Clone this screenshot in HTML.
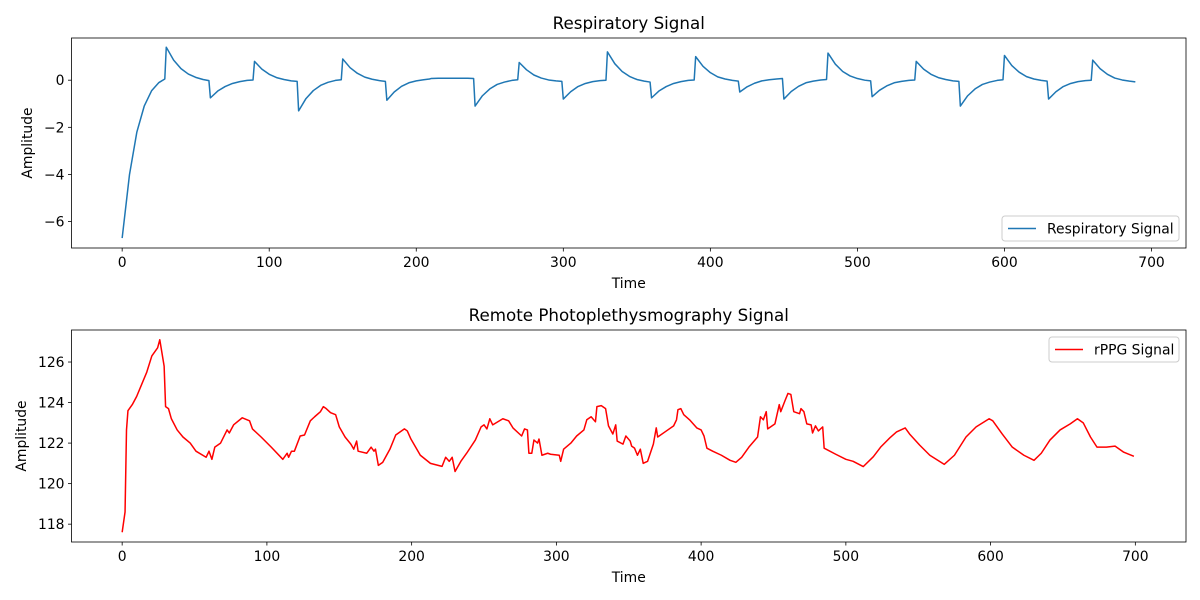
<!DOCTYPE html>
<html><head><meta charset="utf-8">
<style>
body{margin:0;background:#fff;}
svg{display:block;font-family:"DejaVu Sans","Liberation Sans",sans-serif;}
</style></head>
<body>
<svg id="fig" width="1200" height="600" viewBox="0 0 1200 600" xmlns="http://www.w3.org/2000/svg"></svg>
<script>
// ---- Respiratory data ----
const respSegStarts = [0,30,60,90,120,150,180,210,240,270,300,330,360,390,420,450,480,510,540,570,600,630,660];
const respOffsets = [0,5,10,15,20,25,29];
const respSegValues = [
 [-6.7,-4.0,-2.2,-1.1,-0.45,-0.1,0.05],
 [1.4,0.85,0.49,0.26,0.12,0.03,-0.02],
 [-0.75,-0.46,-0.27,-0.14,-0.06,-0.01,0.01],
 [0.8,0.47,0.25,0.11,0.03,-0.03,-0.05],
 [-1.3,-0.78,-0.44,-0.22,-0.09,-0.01,0.02],
 [0.9,0.53,0.29,0.13,0.04,-0.02,-0.05],
 [-0.85,-0.50,-0.26,-0.11,-0.03,0.02,0.05],
 [0.07,0.08,0.08,0.08,0.08,0.08,0.07],
 [-1.1,-0.66,-0.37,-0.18,-0.08,-0.01,0.02],
 [0.75,0.44,0.22,0.09,0.01,-0.03,-0.05],
 [-0.8,-0.49,-0.27,-0.14,-0.06,-0.02,0.0],
 [1.2,0.70,0.37,0.16,0.03,-0.04,-0.08],
 [-0.75,-0.46,-0.27,-0.14,-0.06,-0.01,0.01],
 [1.0,0.59,0.32,0.14,0.05,-0.01,-0.04],
 [-0.5,-0.28,-0.13,-0.03,0.02,0.05,0.07],
 [-0.8,-0.48,-0.26,-0.11,-0.04,0.01,0.03],
 [1.15,0.68,0.37,0.18,0.07,0.0,-0.03],
 [-0.7,-0.43,-0.24,-0.11,-0.05,-0.01,0.01],
 [0.8,0.47,0.25,0.11,0.03,-0.03,-0.05],
 [-1.1,-0.66,-0.37,-0.18,-0.08,-0.01,0.02],
 [1.05,0.62,0.34,0.15,0.05,-0.01,-0.04],
 [-0.8,-0.49,-0.27,-0.14,-0.06,-0.02,0.0],
 [0.85,0.49,0.25,0.09,0.01,-0.04,-0.07]
];
const respXTicks = [0,100,200,300,400,500,600,700];
const respYTicks = [-6,-4,-2,0];
// ---- rPPG data ----
const rppgT = [0,2,3,4,7,10,13.5,17,20.5,24.5,26,29,30,32,34,38,42,47,51,58,60,62,64,68,72.5,74,77,83,88,90,96,103,111,114,115,117,119,123,126,130,133,137,139,141,144,147.5,150,154,158,160,162,163,169,172,174,175,177,180,185,189,195,197,199.5,206,213,221,223.5,226,228,230,234,238,244,248,250,252,254,256,263,267,270,276,278,280,281,283,284.5,287,288,290,294,296,302,303,305,310,314,319,321,324,327,328,331,334,336,339,341,342,346,348,351,352,354,356,358,360,363,367,369,370,376,381,383,384,386,388,392,397,400,402,404,408,414,420,424,428,433,439,441,443,445,446,451,454,455,458,460,462,464,468,469,471,473,476,477,479,481,484,485,493,500,505,512,519,524,531,535,541,544,551,558,568,575,583,590,599,601.5,608,615,623,630,635,641,648,655,660,664,669,673.5,680,686,692,699];
const rppgV = [117.6,118.6,122.65,123.6,123.9,124.3,124.9,125.5,126.3,126.7,127.1,125.8,123.8,123.7,123.2,122.65,122.3,122.0,121.6,121.3,121.6,121.2,121.8,122.0,122.65,122.5,122.9,123.25,123.1,122.7,122.3,121.8,121.2,121.5,121.3,121.6,121.6,122.35,122.4,123.1,123.3,123.55,123.8,123.7,123.5,123.4,122.8,122.3,121.95,121.7,122.1,121.6,121.5,121.8,121.6,121.7,120.9,121.05,121.7,122.4,122.7,122.6,122.2,121.4,121.0,120.85,121.3,121.1,121.3,120.6,121.1,121.5,122.15,122.8,122.9,122.7,123.2,122.9,123.2,123.1,122.75,122.35,122.7,122.65,121.5,121.5,122.15,122.0,122.2,121.4,121.5,121.45,121.4,121.1,121.7,122.0,122.35,122.65,123.15,123.3,123.05,123.8,123.85,123.7,122.85,122.45,122.9,122.1,121.95,122.35,122.1,121.85,121.75,121.4,121.7,121.0,121.1,121.95,122.75,122.3,122.6,122.85,123.15,123.65,123.7,123.4,123.15,122.75,122.65,122.35,121.75,121.6,121.4,121.15,121.05,121.3,121.8,122.3,123.3,123.15,123.55,122.7,122.95,123.9,123.55,124.1,124.45,124.4,123.55,123.45,123.7,123.55,122.95,122.9,122.5,122.85,122.6,122.8,121.75,121.45,121.2,121.1,120.84,121.33,121.8,122.3,122.55,122.75,122.45,121.9,121.4,120.95,121.4,122.3,122.8,123.2,123.1,122.45,121.8,121.4,121.15,121.5,122.15,122.65,122.95,123.2,123.0,122.3,121.8,121.8,121.85,121.55,121.35];
const rppgXTicks = [0,100,200,300,400,500,600,700];
const rppgYTicks = [118,120,122,124,126];

const NS="http://www.w3.org/2000/svg";
const svg=document.getElementById('fig');
function mk(tag,attrs,parent){const e=document.createElementNS(NS,tag);for(const k in attrs)e.setAttribute(k,attrs[k]);(parent||svg).appendChild(e);return e;}
const FS=13.9, TFS=16.7;

function drawAxes(cfg){
  const g=mk('g',{});
  
  
  const {L,T,W,H,xmin,xmax,ymin,ymax}=cfg;
  const sx=v=>L+(v-xmin)/(xmax-xmin)*W;
  const sy=v=>T+H-(v-ymin)/(ymax-ymin)*H;
  const d=cfg.xs.map((x,i)=>(i?'L':'M')+sx(x).toFixed(2)+' '+sy(cfg.ys[i]).toFixed(2)).join(' ');
  const p=mk('path',{d:d,fill:'none',stroke:cfg.color,'stroke-width':1.5,'stroke-linejoin':'round'},g);
  
  
  const fr=mk('rect',{x:L,y:T,width:W,height:H,fill:'none',stroke:'#000','stroke-width':0.8},g);
  
  
  cfg.xticks.forEach(v=>{
    const x=sx(v);
    mk('line',{x1:x,x2:x,y1:T+H,y2:T+H+3.5,stroke:'#000','stroke-width':0.8},g);
    const t=mk('text',{x:x,y:T+H+19,'font-size':FS,'text-anchor':'middle',fill:'#000'},g);
    t.textContent=v;
    
    
  });
  cfg.yticks.forEach(v=>{
    const y=sy(v);
    mk('line',{x1:L-3.5,x2:L,y1:y,y2:y,stroke:'#000','stroke-width':0.8},g);
    const t=mk('text',{x:L-7,y:y+5,'font-size':FS,'text-anchor':'end',fill:'#000'},g);
    t.textContent=String(v).replace('-','\u2212');
    
    
  });
  const tt=mk('text',{x:L+W/2,y:T-9,'font-size':TFS,'text-anchor':'middle',fill:'#000'},g);
  tt.textContent=cfg.title;
  
  
  const xl=mk('text',{x:L+W/2,y:T+H+40,'font-size':FS,'text-anchor':'middle',fill:'#000'},g);
  xl.textContent='Time';
  
  
  const yx=cfg.ylabX, yy=T+H/2;
  const yl=mk('text',{x:yx,y:yy,'font-size':FS,'text-anchor':'middle',fill:'#000',transform:`rotate(-90 ${yx} ${yy})`},g);
  yl.textContent='Amplitude';
  
  
  const lg=mk('g',{},g);
  
  
  const lw=cfg.legW, lx=L+W-lw-7, ly=cfg.legTop?T+7:T+H-7-25;
  mk('rect',{x:lx,y:ly,width:lw,height:25,rx:3,fill:'#fff','fill-opacity':0.8,stroke:'#ccc','stroke-width':1},lg);
  mk('line',{x1:lx+6,x2:lx+34,y1:ly+12.5,y2:ly+12.5,stroke:cfg.color,'stroke-width':1.5},lg);
  const lt=mk('text',{x:lx+45,y:ly+17.5,'font-size':FS,fill:'#000'},lg);
  lt.textContent=cfg.legend;
  
  
}

const respX=[],respY=[];
respSegStarts.forEach((s,i)=>respOffsets.forEach((o,j)=>{respX.push(s+o);respY.push(respSegValues[i][j]);}));

drawAxes({name:'respiratory-chart',lineName:'respiratory-line',L:71.5,T:38,W:1114.5,H:210,
  xmin:-34.45,xmax:723.45,ymin:-7.12,ymax:1.79,xs:respX,ys:respY,color:'#1f77b4',
  xticks:respXTicks,yticks:respYTicks,title:'Respiratory Signal',ylabX:32,
  legend:'Respiratory Signal',legW:177,legTop:false});
drawAxes({name:'rppg-chart',lineName:'rppg-line',L:71.5,T:330,W:1114.5,H:212,
  xmin:-35,xmax:735,ymin:117.12,ymax:127.58,xs:rppgT,ys:rppgV,color:'#ff0000',
  xticks:rppgXTicks,yticks:rppgYTicks,title:'Remote Photoplethysmography Signal',ylabX:26,
  legend:'rPPG Signal',legW:130,legTop:true});
</script>
</body></html>
